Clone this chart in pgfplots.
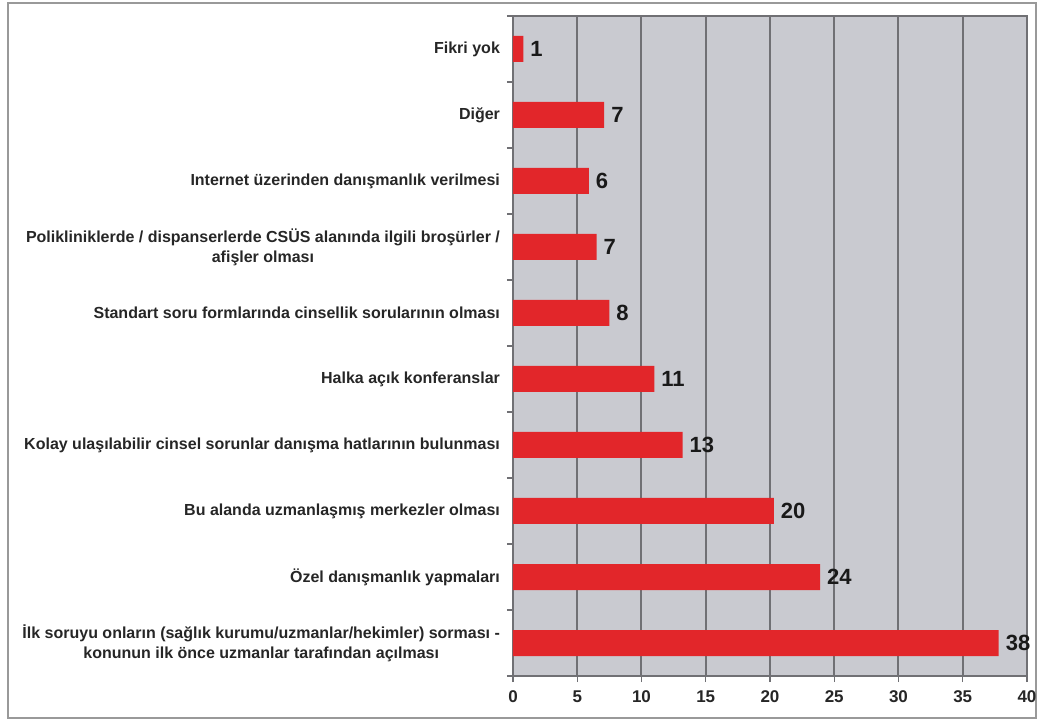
\documentclass[border=0pt]{standalone}
\usepackage{fontspec}
\setmainfont{Liberation Sans}
\usepackage{pgfplots}
\pgfplotsset{compat=1.18}
\usepackage{pgfplotstable}
\definecolor{barred}{RGB}{226,38,42}
\definecolor{plotbg}{RGB}{201,202,208}
\definecolor{gridc}{RGB}{112,112,116}
\pgfplotstableread[col sep=comma]{
pos,val,lab
9,0.8,1
8,7.1,7
7,5.9,6
6,6.5,7
5,7.5,8
4,11.0,11
3,13.2,13
2,20.3,20
1,23.9,24
0,37.8,38
}\datatable
\begin{document}
\begin{tikzpicture}
\useasboundingbox (0,0) rectangle (519.5pt,362pt);
\draw[gray!80, line width=1.2pt] (4pt,3pt) rectangle (518pt,360.5pt);
\begin{axis}[
  at={(256.5pt,24pt)}, anchor=south west,
  scale only axis, width=257pt, height=330pt,
  xbar, bar width=13pt,
  xmin=0, xmax=40, ymin=-0.5, ymax=9.5,
  axis background/.style={fill=plotbg},
  axis line style={gridc, line width=0.6pt},
  xtick={0,5,...,40}, xtick pos=bottom, ytick pos=left,
  tick align=outside, major tick length=3pt,
  tick style={gridc, line width=0.6pt},
  xmajorgrids, grid style={gridc, line width=1pt},
  ytick={-0.5,0.5,...,9.5}, yticklabels={},
  extra y ticks={0,1,2,3,4,5,6,7,8,9},
  extra y tick style={major tick length=0pt, grid=none},
  extra y tick labels={{İlk soruyu onların (sağlık kurumu/uzmanlar/hekimler) sorması -\\konunun ilk önce uzmanlar tarafından açılması},
    {Özel danışmanlık yapmaları},
    {Bu alanda uzmanlaşmış merkezler olması},
    {Kolay ulaşılabilir cinsel sorunlar danışma hatlarının bulunması},
    {Halka açık konferanslar},
    {Standart soru formlarında cinsellik sorularının olması},
    {Polikliniklerde / dispanserlerde CSÜS alanında ilgili broşürler /\\afişler olması},
    {Internet üzerinden danışmanlık verilmesi},
    {Diğer},
    {Fikri yok}},
  yticklabel style={font=\fontsize{8}{10}\selectfont\bfseries, text=black!85, align=center, xshift=-3pt},
  xticklabel style={font=\fontsize{8.5}{9}\selectfont\bfseries, text=black!85, yshift=-1pt},
  /pgf/number format/assume math mode=true,
  nodes near coords, point meta=explicit symbolic,
  nodes near coords style={font=\fontsize{11}{12}\selectfont\bfseries, text=black!90, anchor=west, xshift=0pt},
]
\addplot[fill=barred, draw=none] table[x=val, y=pos, meta=lab] {\datatable};
\end{axis}
\end{tikzpicture}
\end{document}
